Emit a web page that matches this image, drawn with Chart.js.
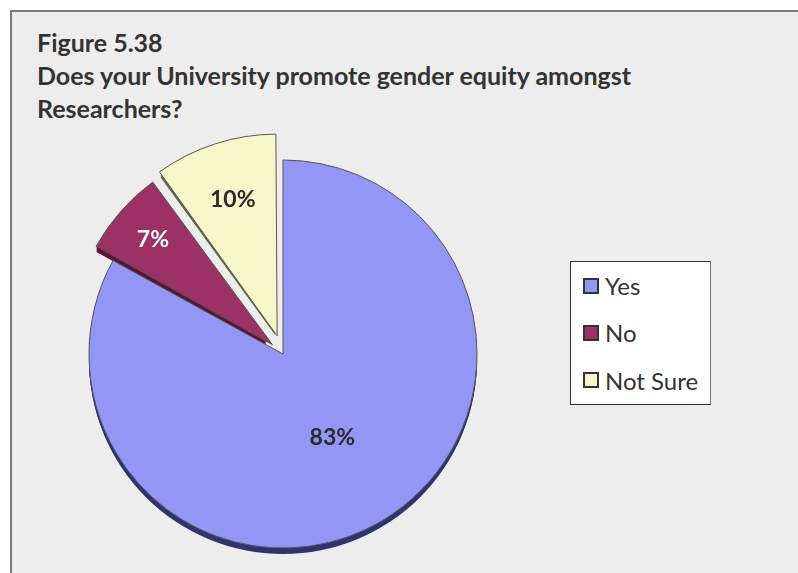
<!DOCTYPE html>
<html>
<head>
<meta charset="utf-8">
<title>Figure 5.38</title>
<script src="https://cdn.jsdelivr.net/npm/chart.js@4.4.0/dist/chart.umd.min.js"></script>
<style>
  html, body { margin: 0; padding: 0; background: #fff; overflow: hidden; }
  #frame {
    position: absolute; left: 10px; top: 10px; width: 800px; height: 580px;
    background: #ededed; border-left: 2px solid #7b7b7b; border-top: 2px solid #7b7b7b;
  }
  #wrap { position: absolute; left: 0; top: 0; width: 798px; height: 573px; }
  #title {
    position: absolute; left: 37px; top: 26px; color: #333;
    font: bold 25px Lato, sans-serif; line-height: 33px; white-space: nowrap;
  }
  #legend {
    position: absolute; left: 570px; top: 261px; width: 139px; height: 142px;
    background: #fff; border: 1px solid #333; border-right-color: #777;
    font: 24px Lato, sans-serif; color: #333;
  }
  #legend .item { height: 47.3px; display: flex; align-items: center; padding-left: 12px; }
  #legend .box { width: 12px; height: 12px; border: 2px solid #333; margin-right: 6px; }
</style>
</head>
<body>
<div id="frame"></div>
<div id="title">Figure 5.38<br>Does your University promote gender equity amongst<br>Researchers?</div>
<div id="wrap"><canvas id="pie-chart" width="798" height="573"></canvas></div>
<div id="legend"></div>
<script>
var canvasElement = document.getElementById("pie-chart");
var labelsData = ["Yes", "No", "Not Sure"];   // answer categories
var inputData = [83, 7, 10];                   // share of respondents, %

var sliceColors = ["#9496f6", "#9b3164", "#f6f6ca"];
var sideColors = ["#2f356c", "#5a1235", "#5d6b3c"];   // 3D rim under each slice
var labelColors = ["#2b2b2b", "#ffffff", "#2b2b2b"];
var sliceOffset = [0, 56, 76];                 // pulled-out slices
var labelRadius = [0.5, 0.78, 0.7];            // label distance, fraction of radius
var depth = 6;

// same shift the arc element applies for options.offset
function sliceShift(arc) {
    var p = arc.getProps(["startAngle", "endAngle", "circumference"]);
    var off = (arc.options.offset || 0) / 4;
    var fix = 1 - Math.sin(Math.min(Math.PI, p.circumference || 0));
    var d = off + off * fix;
    var mid = (p.startAngle + p.endAngle) / 2;
    return { x: Math.cos(mid) * d, y: Math.sin(mid) * d, mid: mid };
}

var sidePlugin = {
    id: "pieSide",
    beforeDatasetsDraw: function (chart) {
        var ctx = chart.ctx;
        chart.getDatasetMeta(0).data.forEach(function (arc, i) {
            var p = arc.getProps(["x", "y", "startAngle", "endAngle", "outerRadius"]);
            var s = sliceShift(arc);
            var cx = p.x + s.x, cy = p.y + s.y;
            ctx.save();
            ctx.fillStyle = sideColors[i];
            for (var d = 1; d <= depth; d++) {
                ctx.beginPath();
                ctx.moveTo(cx, cy + d);
                ctx.arc(cx, cy + d, p.outerRadius, p.startAngle, p.endAngle);
                ctx.closePath();
                ctx.fill();
            }
            ctx.restore();
        });
    }
};

var labelPlugin = {
    id: "sliceLabels",
    afterDatasetsDraw: function (chart) {
        var ctx = chart.ctx;
        ctx.save();
        ctx.font = "bold 23px Lato, sans-serif";
        ctx.textAlign = "center";
        ctx.textBaseline = "middle";
        chart.getDatasetMeta(0).data.forEach(function (arc, i) {
            var p = arc.getProps(["x", "y", "outerRadius"]);
            var s = sliceShift(arc);
            var r = p.outerRadius * labelRadius[i];
            ctx.fillStyle = labelColors[i];
            ctx.fillText(inputData[i] + "%", p.x + s.x + Math.cos(s.mid) * r, p.y + s.y + Math.sin(s.mid) * r);
        });
        ctx.restore();
    }
};

var config = {
    type: "pie",
    data: {
        labels: labelsData,
        datasets: [{
            data: inputData,
            backgroundColor: sliceColors,
            borderColor: "#555",
            borderWidth: 1,
            offset: sliceOffset,
            hoverOffset: 0,
            clip: false
        }]
    },
    options: {
        responsive: false,
        animation: false,
        radius: 194,
        layout: { padding: { left: 0, right: 232, top: 135, bottom: 0 } },
        plugins: {
            title: { display: false },
            legend: { display: false },
            tooltip: { enabled: false }
        }
    },
    plugins: [sidePlugin, labelPlugin]
};

var pieChart = new Chart(canvasElement, config);

// legend box next to the pie
var legendEl = document.getElementById("legend");
labelsData.forEach(function (label, i) {
    var item = document.createElement("div");
    item.className = "item";
    var box = document.createElement("span");
    box.className = "box";
    box.style.background = sliceColors[i];
    item.appendChild(box);
    item.appendChild(document.createTextNode(label));
    legendEl.appendChild(item);
});
</script>
</body>
</html>
